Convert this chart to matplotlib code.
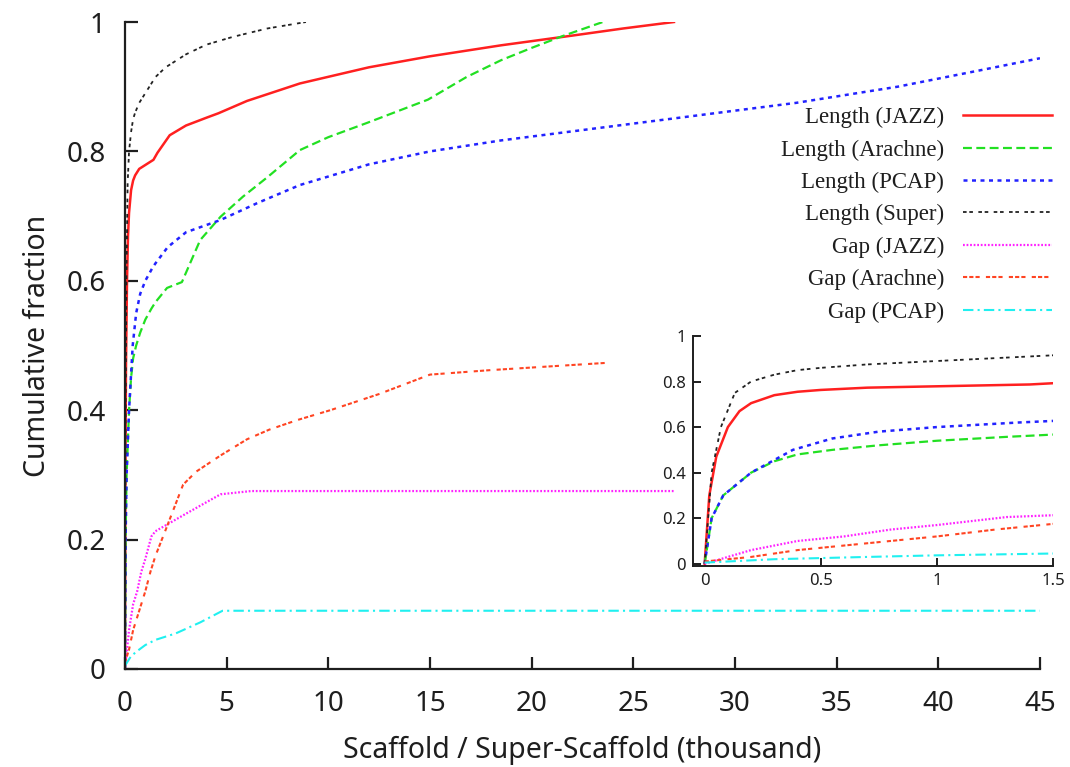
import matplotlib
matplotlib.use("Agg")
import matplotlib.pyplot as plt

OUTFIG = "out.png"

# x in thousand, y = cumulative fraction
LEN_JAZZ_X = [0, 0.02, 0.05, 0.1, 0.15, 0.2, 0.3, 0.4, 0.5, 0.7, 1.0, 1.4, 1.6,
              2.2, 3.0, 4.0, 4.6, 6.0, 8.6, 12, 15, 18.5, 22, 24.5, 27]
LEN_JAZZ_Y = [0, 0.3, 0.47, 0.6, 0.67, 0.705, 0.74, 0.755, 0.763, 0.773, 0.779, 0.787, 0.798,
              0.825, 0.84, 0.852, 0.859, 0.878, 0.905, 0.93, 0.947, 0.964, 0.979, 0.99, 1.0]

LEN_ARACHNE_X = [0, 0.03, 0.08, 0.2, 0.3, 0.4, 0.55, 0.75, 1.0, 1.3, 1.5, 2.07, 2.8,
                 3.7, 4.7, 5.8, 7.0, 8.6, 10, 11.9, 14.9, 16.8, 18.5, 20, 21.5, 23.5]
LEN_ARACHNE_Y = [0, 0.2, 0.3, 0.4, 0.45, 0.48, 0.5, 0.52, 0.54, 0.557, 0.567, 0.589, 0.598,
                 0.663, 0.699, 0.73, 0.76, 0.802, 0.822, 0.844, 0.88, 0.915, 0.941, 0.96, 0.978, 1.0]

LEN_PCAP_X = [0, 0.03, 0.08, 0.2, 0.38, 0.55, 0.75, 1.0, 1.35, 1.5, 2.1, 3, 4.7, 6.5,
              8.6, 12, 15, 18.5, 23, 28, 33, 38, 42, 45]
LEN_PCAP_Y = [0, 0.2, 0.3, 0.4, 0.5, 0.55, 0.58, 0.6, 0.62, 0.627, 0.652, 0.675, 0.694, 0.72,
              0.748, 0.78, 0.8, 0.817, 0.835, 0.855, 0.875, 0.9, 0.925, 0.944]

LEN_SUPER_X = [0, 0.03, 0.07, 0.13, 0.2, 0.3, 0.4, 0.5, 0.7, 0.9, 1.1, 1.5, 2, 3, 4,
               5.3, 7, 8.9]
LEN_SUPER_Y = [0, 0.4, 0.6, 0.75, 0.8, 0.83, 0.85, 0.86, 0.875, 0.885, 0.895, 0.915, 0.93,
               0.95, 0.965, 0.977, 0.99, 1.0]

GAP_JAZZ_X = [0, 0.1, 0.2, 0.4, 0.6, 0.8, 1.0, 1.3, 1.5, 3, 4.7, 6.2, 27]
GAP_JAZZ_Y = [0, 0.03, 0.06, 0.1, 0.12, 0.15, 0.17, 0.205, 0.213, 0.24, 0.27, 0.275, 0.275]

GAP_ARACHNE_X = [0, 0.2, 0.4, 0.6, 0.8, 1.0, 1.25, 1.5, 2.0, 2.86, 3.5, 4.7, 6, 7.1, 8.5,
                 10.1, 12.5, 15, 18, 23.6]
GAP_ARACHNE_Y = [0.01, 0.03, 0.06, 0.08, 0.1, 0.12, 0.15, 0.175, 0.215, 0.285, 0.305, 0.33,
                 0.355, 0.37, 0.385, 0.40, 0.425, 0.455, 0.462, 0.473]

GAP_PCAP_X = [0, 0.3, 0.7, 1.0, 1.5, 2.5, 3.7, 4.8, 45]
GAP_PCAP_Y = [0.005, 0.02, 0.03, 0.037, 0.045, 0.055, 0.072, 0.09, 0.09]

LABELS = ["Length (JAZZ)", "Length (Arachne)", "Length (PCAP)", "Length (Super)",
          "Gap (JAZZ)", "Gap (Arachne)", "Gap (PCAP)"]

MAIN_XTICKS = [0, 5, 10, 15, 20, 25, 30, 35, 40, 45]
MAIN_YTICKS = [0, 0.2, 0.4, 0.6, 0.8, 1]
MAIN_YTICKLABELS = ["0", "0.2", "0.4", "0.6", "0.8", "1"]
INSET_XTICKS = [0, 0.5, 1, 1.5]
INSET_XTICKLABELS = ["0", "0.5", "1", "1.5"]

SANS = ["Noto Sans", "DejaVu Sans"]
SERIF = ["Liberation Serif", "DejaVu Serif"]
INK = "#1e1e1e"


def series():
    """returns (x, y, style) for every curve, legend order"""
    return [
        (LEN_JAZZ_X, LEN_JAZZ_Y, dict(color="#ff2020", lw=1.8, ls="-")),
        (LEN_ARACHNE_X, LEN_ARACHNE_Y, dict(color="#22e022", lw=1.6, dashes=(4, 2))),
        (LEN_PCAP_X, LEN_PCAP_Y, dict(color="#2222ff", lw=1.8, dashes=(1.6, 1.8))),
        (LEN_SUPER_X, LEN_SUPER_Y, dict(color="#222222", lw=1.3, dashes=(2, 1.5, 2, 3))),
        (GAP_JAZZ_X, GAP_JAZZ_Y, dict(color="#ff22ff", lw=1.6, dashes=(0.8, 0.8))),
        (GAP_ARACHNE_X, GAP_ARACHNE_Y, dict(color="#ff4422", lw=1.5, dashes=(2, 1, 2, 1, 2, 3))),
        (GAP_PCAP_X, GAP_PCAP_Y, dict(color="#20f0f0", lw=1.5, dashes=(5, 2, 1, 2))),
    ]


def style_axes(ax, lw, ticklen, labelsize):
    ax.spines["top"].set_visible(False)
    ax.spines["right"].set_visible(False)
    ax.spines["left"].set_linewidth(lw)
    ax.spines["bottom"].set_linewidth(lw)
    ax.spines["left"].set_color(INK)
    ax.spines["bottom"].set_color(INK)
    ax.tick_params(direction="in", length=ticklen, width=lw, labelsize=labelsize,
                   colors=INK)
    for t in ax.get_xticklabels() + ax.get_yticklabels():
        t.set_family(SANS)


def main() -> int:
    fig = plt.figure(figsize=(10.7, 7.67), dpi=100)
    ax = fig.add_axes([0.1168, 0.1278, 0.8551, 0.8435])

    for (x, y, st), lab in zip(series(), LABELS):
        ax.plot(x, y, label=lab, **st)

    ax.set_xlim(0, 45)
    ax.set_ylim(0, 1)
    ax.set_xticks(MAIN_XTICKS)
    ax.set_xticklabels([str(v) for v in MAIN_XTICKS])
    ax.set_yticks(MAIN_YTICKS)
    ax.set_yticklabels(MAIN_YTICKLABELS)
    style_axes(ax, 1.6, 9, 20)
    ax.tick_params(axis="x", pad=15)
    ax.tick_params(axis="y", pad=14)

    ax.set_xlabel("Scaffold / Super-Scaffold (thousand)", fontsize=20.5, family=SANS,
                  color=INK)
    ax.set_ylabel("Cumulative fraction", fontsize=20.5, family=SANS, color=INK)
    ax.xaxis.set_label_coords(0.5, -0.104)
    ax.yaxis.set_label_coords(-0.08, 0.5)

    leg = ax.legend(loc="upper right", bbox_to_anchor=(1052 / 1070, 1 - 107 / 767),
                    bbox_transform=fig.transFigure, frameon=False, markerfirst=False,
                    prop={"family": SERIF, "size": 16.5}, handlelength=3.9,
                    handletextpad=0.8, labelspacing=0.49, borderpad=0, borderaxespad=0)
    for t in leg.get_texts():
        t.set_color(INK)

    # zoomed inset of the first 1.5 thousand
    ins = fig.add_axes([0.6477, 0.2620, 0.3364, 0.3000])
    for x, y, st in series():
        ins.plot(x, y, **st)
    ins.set_xlim(-0.05, 1.5)
    ins.set_ylim(-0.01, 1)
    ins.set_xticks(INSET_XTICKS)
    ins.set_xticklabels(INSET_XTICKLABELS)
    ins.set_yticks(MAIN_YTICKS)
    ins.set_yticklabels(MAIN_YTICKLABELS)
    style_axes(ins, 1.4, 6, 12)
    ins.tick_params(axis="x", pad=5)
    ins.tick_params(axis="y", pad=5)

    fig.savefig(OUTFIG, dpi=100)
    plt.close(fig)
    return 0


if __name__ == "__main__":
    raise SystemExit(main())
